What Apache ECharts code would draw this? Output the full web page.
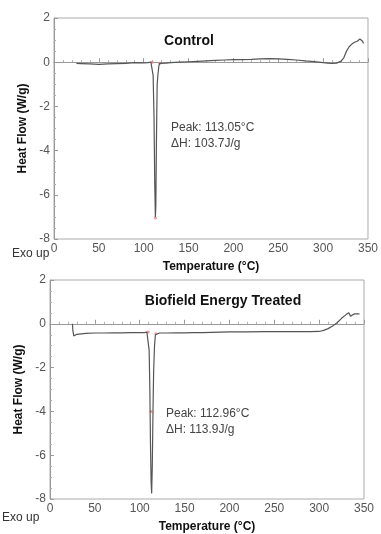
<!DOCTYPE html>
<html><head><meta charset="utf-8">
<script src="https://cdn.jsdelivr.net/npm/echarts@6/dist/echarts.min.js"></script>
<style>html,body{margin:0;padding:0;background:#fff}#c{width:381px;height:534px}</style>
</head><body><div id="c"></div>
<script>
const xTicks = [0, 50, 100, 150, 200, 250, 300, 350];
const yTicks = [-8, -6, -4, -2, 0, 2];
const ctrlT = [25,30,40,50,60,70,80,90,100,105,108,109.5,110.5,111.5,112.3,113,113.5,114.2,115,116,117,118,120,125,130,140,150,160,170,180,190,200,210,220,230,240,250,260,270,280,290,300,305,310,315,320,323,326,329,332,335,338,341,343,344,345];
const ctrlV = [-0.05,-0.06,-0.08,-0.1,-0.08,-0.06,-0.05,-0.02,-0.03,-0.02,0.0,-0.05,-0.6,-2.5,-5.5,-7.0,-6.5,-3.5,-1.0,-0.5,-0.15,-0.05,-0.05,-0.04,-0.02,0.0,0.02,0.04,0.06,0.08,0.1,0.12,0.12,0.13,0.15,0.16,0.15,0.13,0.1,0.06,0.03,-0.02,-0.04,-0.06,-0.04,0.05,0.2,0.5,0.7,0.82,0.9,0.95,1.05,1.1,0.95,0.85];
const trtT = [25,25.5,26.5,28,30,40,50,60,70,80,90,100,105,108,109.5,110.5,111.3,112,112.7,113.3,114,114.8,115.5,116.5,117.5,119,122,130,140,150,160,170,180,190,200,220,240,260,280,290,300,305,310,315,320,325,330,333,335,337,339,341,343,345];
const trtV = [0,-0.3,-0.55,-0.58,-0.48,-0.44,-0.42,-0.42,-0.41,-0.41,-0.4,-0.4,-0.4,-0.38,-0.45,-1.2,-3.0,-5.5,-7.2,-7.75,-6.5,-4.0,-2.2,-1.0,-0.5,-0.45,-0.42,-0.42,-0.41,-0.41,-0.4,-0.4,-0.39,-0.38,-0.37,-0.37,-0.36,-0.36,-0.36,-0.36,-0.35,-0.3,-0.22,-0.1,0.05,0.25,0.42,0.5,0.35,0.4,0.45,0.4,0.45,0.45];
const ctrlMarkT = [109.5, 118, 113];
const ctrlMarkV = [0.0, -0.05, -7.05];
const trtMarkT = [109.5, 118, 112.7];
const trtMarkV = [-0.38, -0.45, -4.0];
const titles = ['Control', 'Biofield Energy Treated'];
const notes = [['Peak: 113.05°C', 'ΔH: 103.7J/g'], ['Peak: 112.96°C', 'ΔH: 113.9J/g']];

const zip = (a, b) => a.map((v, i) => [v, b[i]]);
const font = 'Liberation Sans, Arial, sans-serif';
const grids = [
  {left: 54, top: 18, width: 314, height: 221},
  {left: 50, top: 280, width: 314, height: 220}
];
function xAx(i) {
  return {gridIndex: i, type: 'value', min: xTicks[0], max: xTicks[xTicks.length-1], interval: 50,
    name: 'Temperature (°C)', nameLocation: 'middle', nameGap: 22,
    nameTextStyle: {fontFamily: font, fontWeight: 'bold', fontSize: 12, color: '#111'},
    axisLine: {lineStyle: {color: '#999', width: 1}}, axisTick: {inside: true, length: 4, lineStyle: {color: '#999'}},
    minorTick: {show: true, splitNumber: 5, length: 2, lineStyle: {color: '#aaa'}},
    axisLabel: {fontFamily: font, fontSize: 12, color: '#555', margin: 4}, splitLine: {show: false}};
}
function yAx(i) {
  return {gridIndex: i, type: 'value', min: yTicks[0], max: yTicks[yTicks.length-1], interval: 2,
    name: 'Heat Flow (W/g)', nameLocation: 'middle', nameGap: 13,
    nameTextStyle: {fontFamily: font, fontWeight: 'bold', fontSize: 12, color: '#111'},
    axisLine: {show: true, lineStyle: {color: '#999', width: 1}}, axisTick: {show: true, inside: true, length: 4, lineStyle: {color: '#999'}},
    minorTick: {show: true, splitNumber: 4, length: 2, lineStyle: {color: '#aaa'}},
    axisLabel: {fontFamily: font, fontSize: 12, color: '#555', margin: 4}, splitLine: {show: false}};
}
const chart = echarts.init(document.getElementById('c'), null, {renderer: 'canvas'});
chart.setOption({
  animation: false,
  backgroundColor: '#fff',
  grid: grids.map(g => Object.assign({show: true, borderColor: '#aaa', borderWidth: 1}, g)),
  xAxis: [xAx(0), xAx(1)],
  yAxis: [yAx(0), yAx(1)],
  title: [
    {text: titles[0], left: 184, top: 29, textAlign: 'center', textStyle: {fontFamily: font, fontWeight: 'bold', fontSize: 14, color: '#111'}},
    {text: titles[1], left: 218, top: 289, textAlign: 'center', textStyle: {fontFamily: font, fontWeight: 'bold', fontSize: 14, color: '#111'}}
  ],
  graphic: [
    {type: 'text', left: 171, top: 120, style: {text: notes[0].join('\n'), font: '12px ' + font, fill: '#444', lineHeight: 16}},
    {type: 'text', left: 166, top: 406, style: {text: notes[1].join('\n'), font: '12px ' + font, fill: '#444', lineHeight: 16}},
    {type: 'text', left: 12, top: 248, style: {text: 'Exo up', font: '12px ' + font, fill: '#333'}},
    {type: 'text', left: 2, top: 512, style: {text: 'Exo up', font: '12px ' + font, fill: '#333'}}
  ],
  series: [
    {type: 'line', xAxisIndex: 0, yAxisIndex: 0, data: zip(ctrlT, ctrlV), showSymbol: false, lineStyle: {color: '#555', width: 1.2}},
    {type: 'line', xAxisIndex: 1, yAxisIndex: 1, data: zip(trtT, trtV), showSymbol: false, lineStyle: {color: '#555', width: 1.2}},
    {type: 'scatter', xAxisIndex: 0, yAxisIndex: 0, data: zip(ctrlMarkT, ctrlMarkV), symbolSize: 3, itemStyle: {color: '#f08080'}},
    {type: 'scatter', xAxisIndex: 1, yAxisIndex: 1, data: zip(trtMarkT, trtMarkV), symbolSize: 3, itemStyle: {color: '#f08080'}}
  ]
});
</script></body></html>
